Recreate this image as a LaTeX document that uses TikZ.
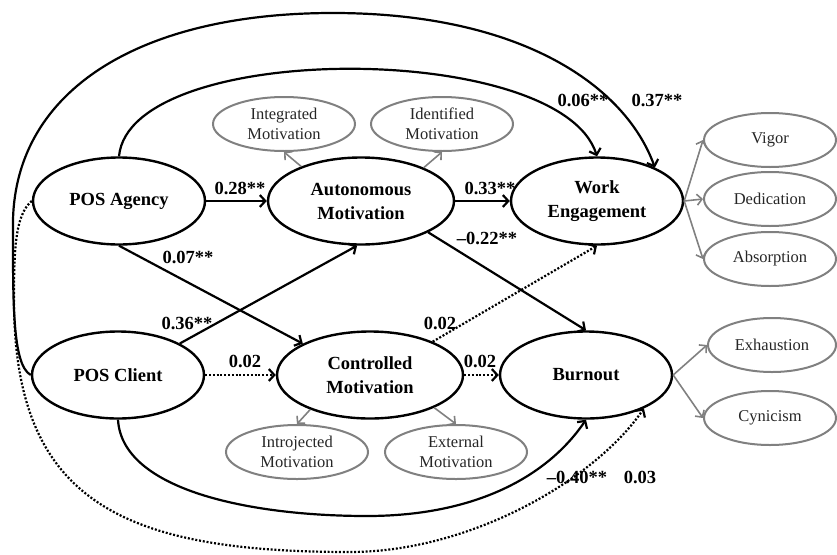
\documentclass[tikz,border=0pt]{standalone}
\usepackage{fontspec}
\setmainfont{Liberation Serif}
\usetikzlibrary{arrows.meta,shapes.geometric}
\definecolor{indgray}{RGB}{128,128,128}

\begin{document}
\begin{tikzpicture}[x=1pt,y=-1pt,
    latent/.style={ellipse, draw, line width=2.4pt, minimum width=172pt, minimum height=87pt,
        inner sep=0pt, align=center, font=\fontsize{18.5}{24}\selectfont\bfseries},
    indicator/.style={ellipse, draw=indgray, line width=2pt, minimum width=132pt, minimum height=54pt,
        inner sep=0pt, align=center, text=black!85, font=\fontsize{16.5}{19.5}\selectfont},
    coef/.style={inner sep=0pt, font=\fontsize{18.5}{20}\selectfont\bfseries},
    effect/.style={line width=2.2pt, -{Straight Barb[length=5.5pt,width=12pt]}},
    weak/.style={effect, dash pattern=on 2pt off 1.8pt},
    load/.style={draw=indgray, line width=1.6pt, -{Straight Barb[length=5pt,width=11pt]}}]
            \useasboundingbox (0,0) rectangle (837,554);
            % Variabili latenti
            \node[latent] (agency) at (119,201) {POS Agency};
            \node[latent] (client) at (118,375) {POS Client};
            \node[latent, minimum width=186pt] (auto) at (361,201) {Autonomous\\Motivation};
            \node[latent, minimum width=186pt] (contr) at (370,375) {Controlled\\Motivation};
            \node[latent] (work) at (597,201) {Work\\Engagement};
            \node[latent] (burn) at (586,375) {Burnout};
            % Indicatori della motivazione
            \node[indicator, minimum width=142pt] (integ) at (284,124) {Integrated\\Motivation};
            \node[indicator, minimum width=142pt] (ident) at (442,124) {Identified\\Motivation};
            \node[indicator, minimum width=142pt] (intro) at (297,452) {Introjected\\Motivation};
            \node[indicator, minimum width=142pt] (ext) at (456,452) {External\\Motivation};
            % Indicatori degli esiti
            \node[indicator] (vigor) at (770,140) {Vigor};
            \node[indicator] (dedic) at (770,199) {Dedication};
            \node[indicator] (absorb) at (770,259) {Absorption};
            \node[indicator, minimum width=128pt] (exhau) at (772,345) {Exhaustion};
            \node[indicator] (cynic) at (770,418) {Cynicism};
            % Frecce grigie verso gli indicatori
            \draw[load] (auto.150) -- (integ.south);
            \draw[load] (auto.28) -- (ident.south);
            \draw[load] (contr.-150) -- (intro.north);
            \draw[load] (contr.-27) -- (ext.north);
            \draw[load] (work.east) -- (vigor.west);
            \draw[load] (work.east) -- (dedic.west);
            \draw[load] (work.east) -- (absorb.west);
            \draw[load] (burn.east) -- (exhau.west);
            \draw[load] (burn.east) -- (cynic.west);
            % Percorsi diretti
            \draw[effect] (agency.east) -- (auto.west);
            \draw[effect] (auto.east) -- (work.west);
            \draw[effect] (agency.south) -- (contr.155);
            \draw[effect] (client.27) -- (auto.-95);
            \draw[effect] (auto.-25) -- (burn.north);
            \draw[weak] (client.east) -- (contr.west);
            \draw[weak] (contr.east) -- (burn.west);
            \draw[weak] (contr.28) -- (work.south);
            % Archi superiori verso Work Engagement
            \draw[effect] (agency.north) .. controls (130,40) and (560,40) .. (work.north);
            \draw[effect] (client.west) .. controls (12,365) and (13,300) .. (13,220)
                .. controls (16,90) and (140,13) .. (333,13)
                .. controls (520,13) and (625,85) .. (work.30);
            % Archi inferiori verso Burnout
            \draw[effect] (client.south) .. controls (122,490) and (250,516) .. (367,516)
                .. controls (470,516) and (545,480) .. (burn.south);
            \draw[weak] (agency.west) .. controls (15,215) and (14,250) .. (14,300)
                .. controls (14,500) and (120,552) .. (350,552)
                .. controls (470,552) and (595,480) .. (burn.-30);
            % Coefficienti
            \node[coef] (c28) at (240,188) {0.28**};
            \node[coef] (c33) at (490,188) {0.33**};
            \node[coef] (c07) at (188,257) {0.07**};
            \node[coef] (c36) at (187,323) {0.36**};
            \node[coef] (c22) at (487,238) {--0.22**};
            \node[coef] (c02a) at (245,361) {0.02};
            \node[coef] (c02b) at (440,323) {0.02};
            \node[coef] (c02c) at (480,361) {0.02};
            \node[coef] (c06) at (583,100) {0.06**};
            \node[coef] (c37) at (657,100) {0.37**};
            \node[coef] (c40) at (577,477) {--0.40**};
            \node[coef] (c03) at (640,477) {0.03};
        \end{tikzpicture}
\end{document}
